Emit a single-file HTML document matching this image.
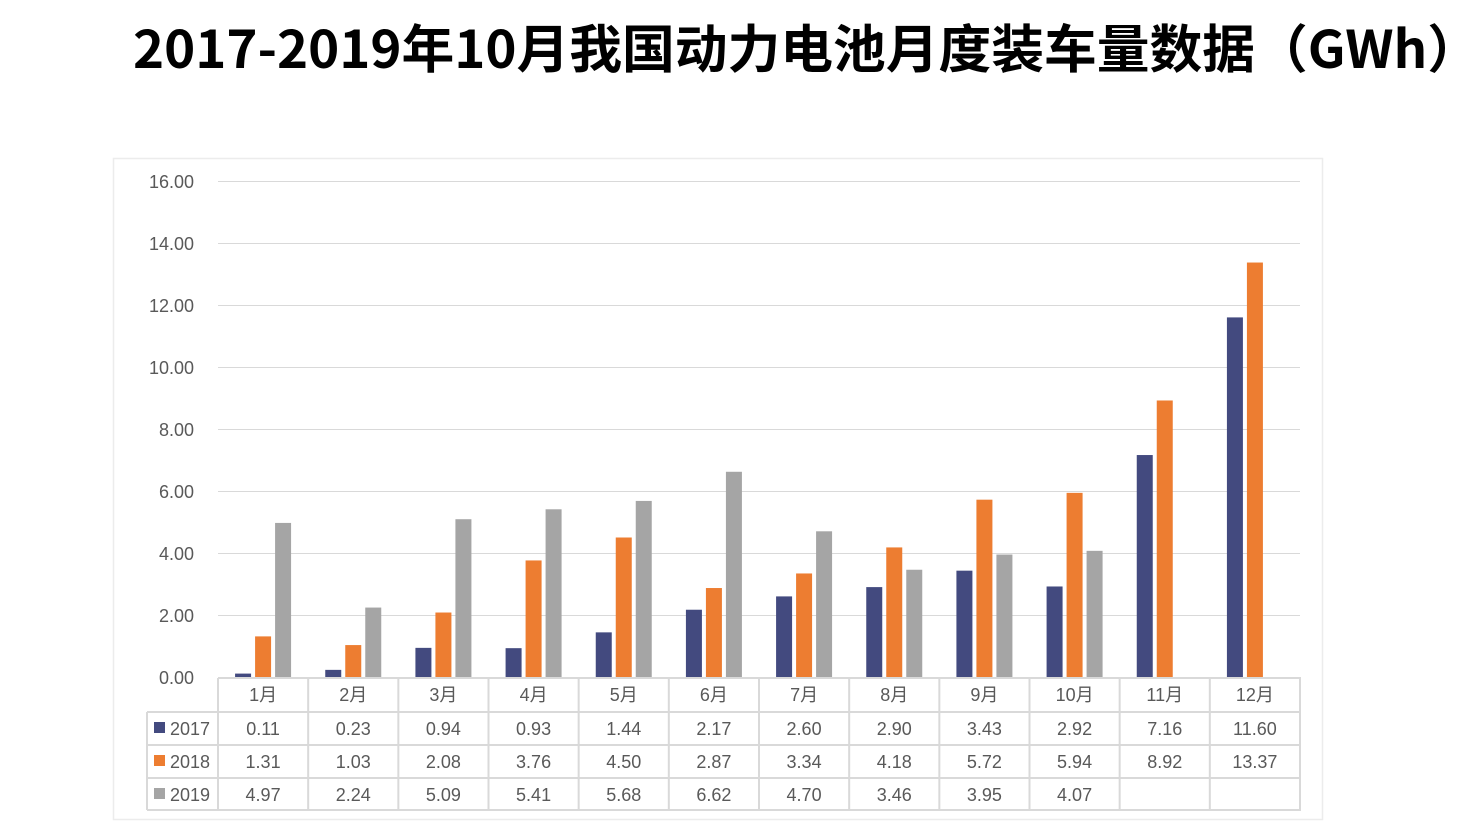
<!DOCTYPE html>
<html><head><meta charset="utf-8"><style>
html,body{margin:0;padding:0;background:#fff;}
svg{display:block;}
</style></head><body>
<svg width="1468" height="827" viewBox="0 0 1468 827" xmlns="http://www.w3.org/2000/svg">
<text x="133" y="68" font-family="'WenQuanYi Zen Hei','Noto Sans CJK SC',sans-serif" font-weight="bold" font-size="52" fill="#000" textLength="1347" lengthAdjust="spacingAndGlyphs">2017-2019年10月我国动力电池月度装车量数据（GWh）</text>
<rect x="113.5" y="158.5" width="1209" height="661" fill="#fff" stroke="#ececec" stroke-width="1.5"/>
<g stroke="#d9d9d9" stroke-width="1">
<line x1="218" y1="181.5" x2="1300" y2="181.5"/>
<line x1="218" y1="243.5" x2="1300" y2="243.5"/>
<line x1="218" y1="305.5" x2="1300" y2="305.5"/>
<line x1="218" y1="367.5" x2="1300" y2="367.5"/>
<line x1="218" y1="429.5" x2="1300" y2="429.5"/>
<line x1="218" y1="491.5" x2="1300" y2="491.5"/>
<line x1="218" y1="553.5" x2="1300" y2="553.5"/>
<line x1="218" y1="615.5" x2="1300" y2="615.5"/>
</g>
<g font-family="'Liberation Sans',sans-serif" font-size="18" fill="#595959" text-anchor="end">
<text x="194" y="188">16.00</text><text x="194" y="250">14.00</text><text x="194" y="312">12.00</text>
<text x="194" y="374">10.00</text><text x="194" y="436">8.00</text><text x="194" y="498">6.00</text>
<text x="194" y="560">4.00</text><text x="194" y="622">2.00</text><text x="194" y="684">0.00</text>
</g>
<g id="bars"></g>
<g stroke="#d9d9d9" stroke-width="2" fill="none" id="grid"></g>
<g id="txt" font-family="'Liberation Sans','Noto Sans CJK SC',sans-serif" font-size="18" fill="#595959" text-anchor="middle"></g>
<rect x="154" y="722" width="11" height="11" fill="#434a7f"/>
<rect x="154" y="755" width="11" height="11" fill="#ed7d31"/>
<rect x="154" y="788" width="11" height="11" fill="#a5a5a5"/>
<g font-family="'Liberation Sans',sans-serif" font-size="18" fill="#595959">
<text x="170" y="735">2017</text><text x="170" y="768">2018</text><text x="170" y="801">2019</text>
</g>
<script>
var d=[[0.11,0.23,0.94,0.93,1.44,2.17,2.60,2.90,3.43,2.92,7.16,11.60],
[1.31,1.03,2.08,3.76,4.50,2.87,3.34,4.18,5.72,5.94,8.92,13.37],
[4.97,2.24,5.09,5.41,5.68,6.62,4.70,3.46,3.95,4.07,null,null]];
var col=["#434a7f","#ed7d31","#a5a5a5"];
var ns="http://www.w3.org/2000/svg";
var W=(1300-218)/12;
var b=document.getElementById("bars"),g=document.getElementById("grid"),t=document.getElementById("txt");
function el(p,n,a,tx){var e=document.createElementNS(ns,n);for(var k in a)e.setAttribute(k,a[k]);if(tx!=null)e.textContent=tx;p.appendChild(e);}
for(var i=0;i<12;i++){var c=218+W*(i+0.5);
 for(var s=0;s<3;s++){var v=d[s][i];if(v==null)continue;var h=v*31;
  el(b,"rect",{x:c-28+s*20,y:677-h,width:16,height:h,fill:col[s]});
  el(t,"text",{x:c,y:735+s*33},v.toFixed(2));}
 el(t,"text",{x:c,y:701},(i+1)+"月");
}
el(g,"line",{x1:218,y1:678,x2:1301,y2:678});
el(g,"line",{x1:147,y1:712,x2:1301,y2:712});
el(g,"line",{x1:147,y1:745,x2:1301,y2:745});
el(g,"line",{x1:147,y1:778,x2:1301,y2:778});
el(g,"line",{x1:147,y1:810,x2:1301,y2:810});
el(g,"line",{x1:147,y1:712,x2:147,y2:810});
for(var i=0;i<=12;i++){var x=218+W*i;el(g,"line",{x1:x,y1:678,x2:x,y2:810});}
</script>
</svg>
</body></html>
